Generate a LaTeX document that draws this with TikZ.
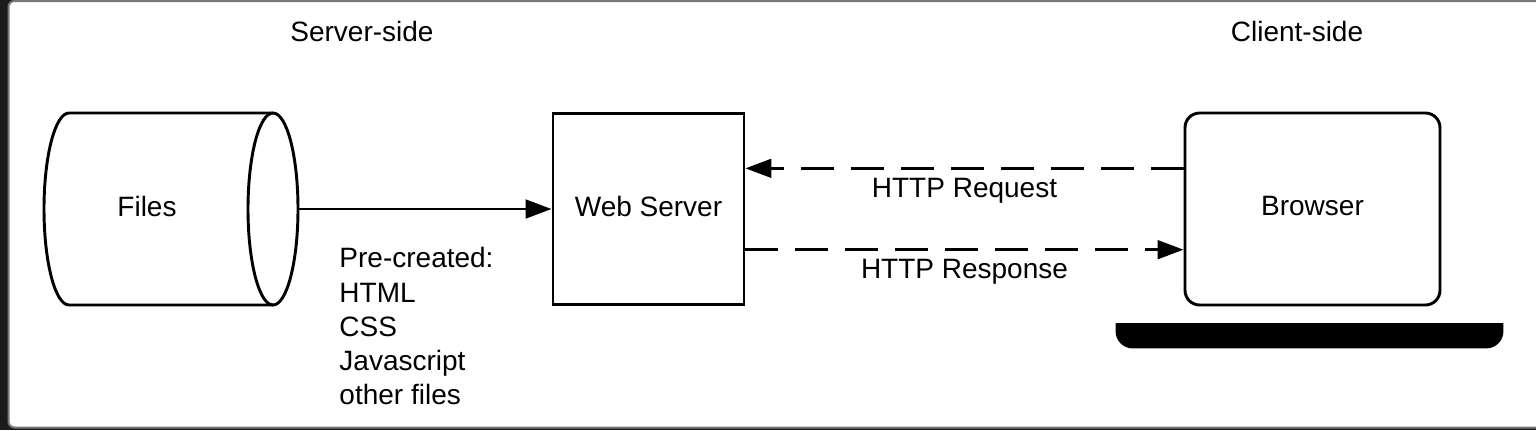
\documentclass[tikz,border=0pt]{standalone}
\usepackage{fontspec}
\setmainfont{Liberation Sans}
\usetikzlibrary{arrows.meta}
\definecolor{framedark}{RGB}{27,27,27}
\definecolor{framegray}{RGB}{120,120,120}
\tikzset{every picture/.style={line width=2.2pt},
  lbl/.style={font=\fontsize{21}{25.7}\selectfont},
  box/.style={draw, lbl, text depth=4.5pt, minimum width=143.25pt, minimum height=143.25pt, inner sep=0pt},
  tip/.style={-{Triangle[length=19.5pt,width=14pt]}},
  httpline/.style={tip, dash pattern=on 24.75pt off 12.75pt}}

\begin{document}
\begin{tikzpicture}[x=0.75pt,y=0.75pt,yscale=-1,xscale=1]
\useasboundingbox (0,0) rectangle (1536,430);

%Shape: Frame
\fill[framedark] (0,0) rectangle (1536,430);
\draw[fill=white, draw=framegray, line width=1.5pt, rounded corners=4.5pt] (8.5,1) rectangle (1545,427.5);

%Shape: Can
\node[minimum width=190.5pt, minimum height=144pt, inner sep=0pt] (files) at (171,209) {};
\draw (273,113) -- (69,113) .. controls (55.2,113) and (44,156) .. (44,209) .. controls (44,262) and (55.2,305) .. (69,305) -- (273,305) ;
\draw (248,209) .. controls (248,156) and (259.2,113) .. (273,113) .. controls (286.8,113) and (298,156) .. (298,209) .. controls (298,262) and (286.8,305) .. (273,305) .. controls (259.2,305) and (248,262) .. (248,209) -- cycle ;
% Text Node
\node[lbl, text depth=4.5pt] (filestext) at (147,209) {Files};

%Shape: Rectangle
\node[box] (server) at (648.5,209) {Web Server};
%Shape: Rounded Rect
\node[box, minimum width=191.25pt, minimum height=144pt, rounded corners=11pt] (browser) at (1312.5,209) {Browser};
%Shape: Laptop base
\node[minimum width=288.75pt, minimum height=16.5pt, inner sep=0pt] (base) at (1309.5,336) {};
\begin{scope}
\clip (base.north west) rectangle (base.south east);
\fill[rounded corners=13pt] ([yshift=-14pt]base.north west) rectangle (base.south east);
\end{scope}

%Straight Lines
\draw[tip] (files.east) -- (server.west);
\draw[httpline] ([yshift=-30.5pt]browser.west) -- ([yshift=-30.5pt]server.east) node[lbl, midway, anchor=base, yshift=-21.75pt] {HTTP Request};
\draw[httpline] ([yshift=30.5pt]server.east) -- ([yshift=30.5pt]browser.west) node[lbl, midway, anchor=base, yshift=-21.75pt] {HTTP Response};

% Text Node
\node[lbl] (serverside) at (362,31) {Server-side};
% Text Node
\node[lbl] (clientside) at (1297,31) {Client-side};
% Text Node
\node[lbl, anchor=north west, align=left, inner sep=0pt] (precreated) at (338,246) {Pre-created:\\HTML\\CSS\\Javascript\\other files};

\end{tikzpicture}
\end{document}
